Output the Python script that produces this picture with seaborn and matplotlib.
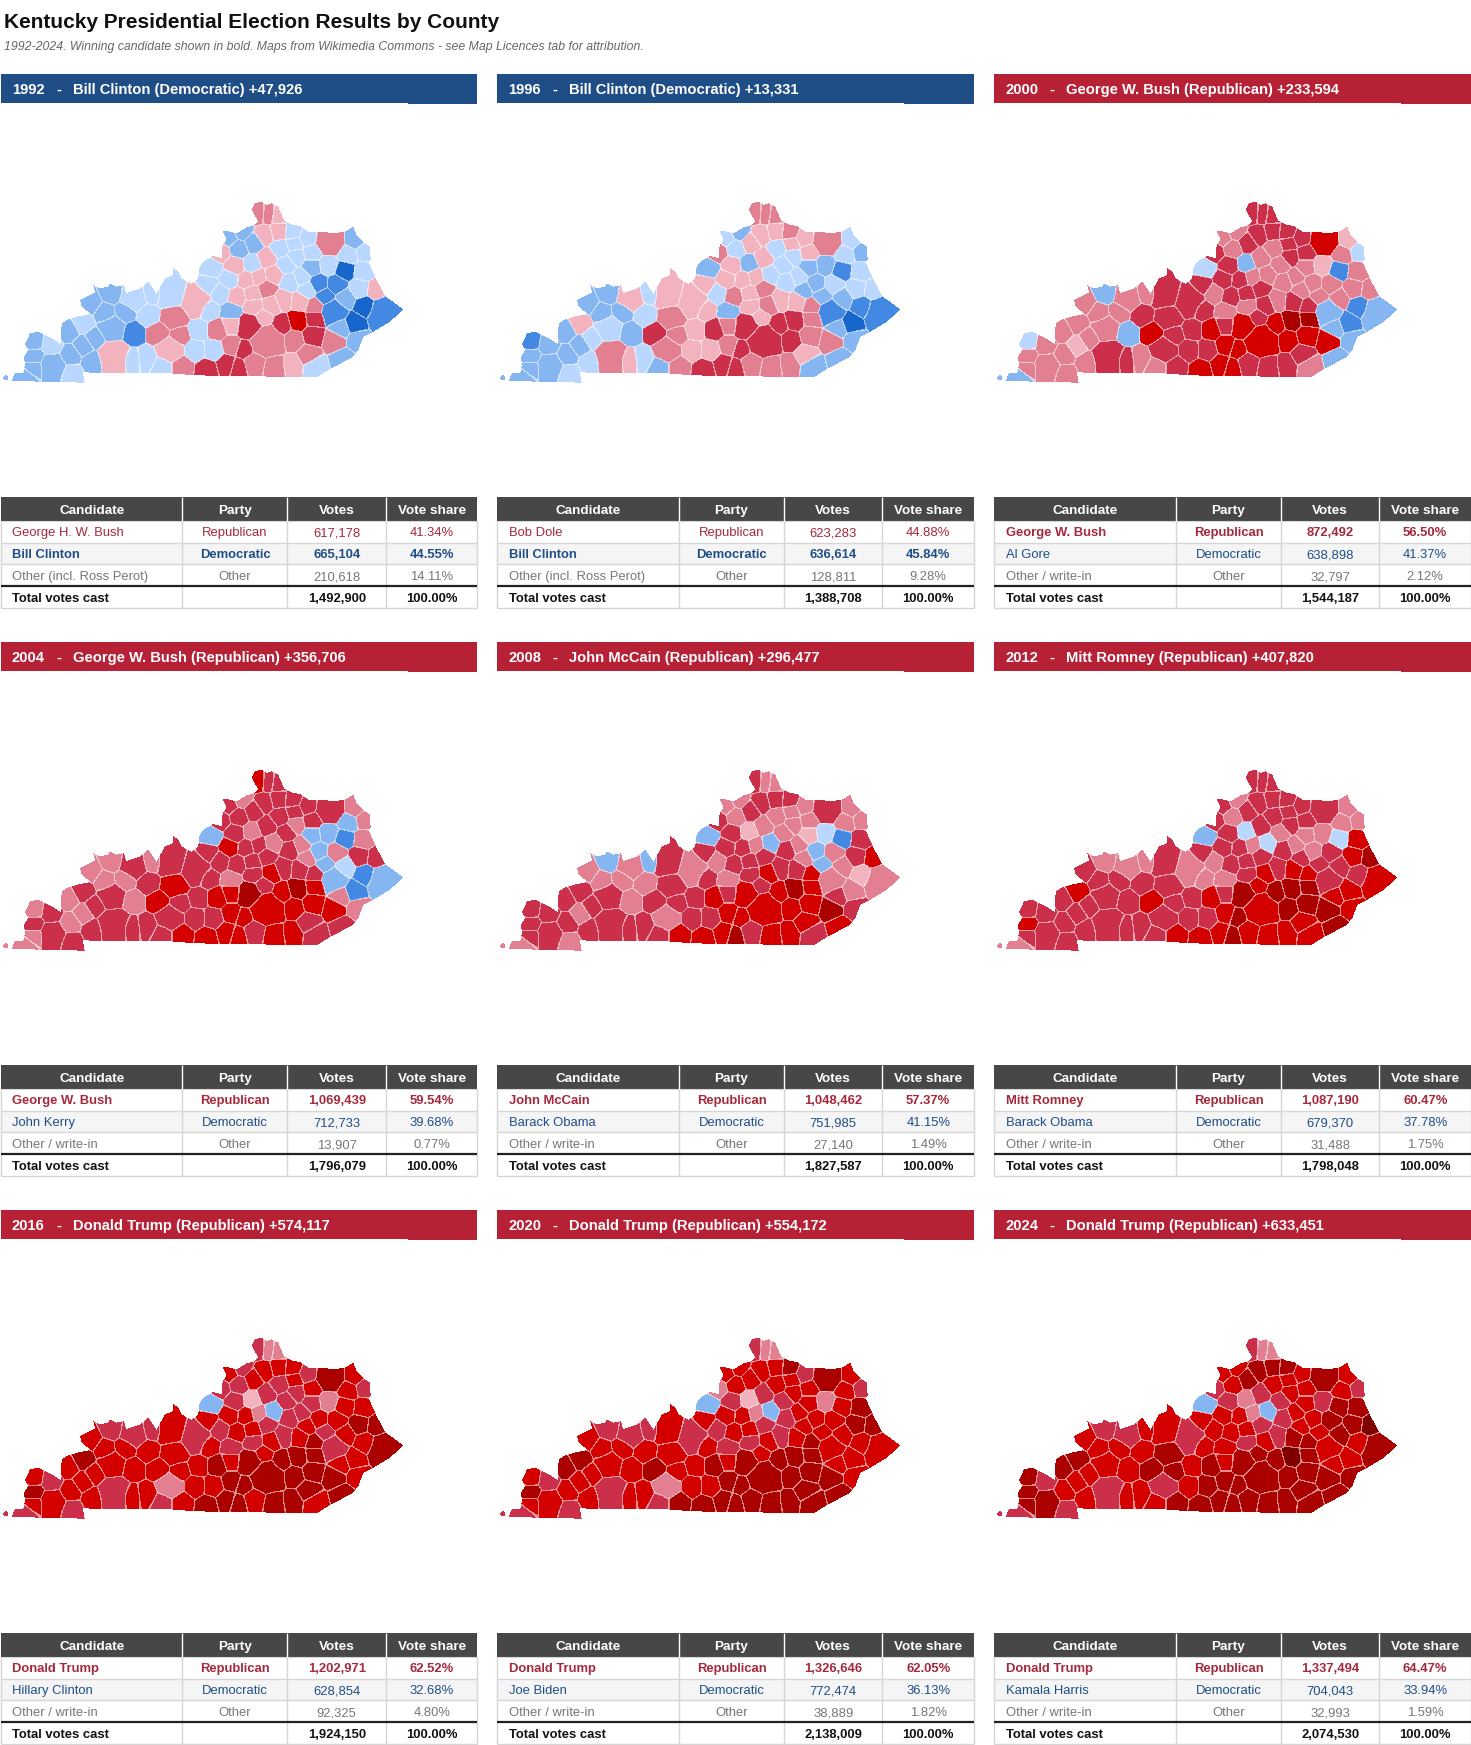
import numpy as np
import matplotlib
matplotlib.use("Agg")
import matplotlib.pyplot as plt
from matplotlib.colors import ListedColormap, to_rgb
from matplotlib.patches import Rectangle
from matplotlib.path import Path
import seaborn as sns

years = [1992, 1996, 2000, 2004, 2008, 2012, 2016, 2020, 2024]
winner_side = ["dem", "dem", "rep", "rep", "rep", "rep", "rep", "rep", "rep"]
margins = ["+47,926", "+13,331", "+233,594", "+356,706", "+296,477", "+407,820", "+574,117", "+554,172", "+633,451"]

rep_names = ["George H. W. Bush", "Bob Dole", "George W. Bush", "George W. Bush", "John McCain",
             "Mitt Romney", "Donald Trump", "Donald Trump", "Donald Trump"]
dem_names = ["Bill Clinton", "Bill Clinton", "Al Gore", "John Kerry", "Barack Obama",
             "Barack Obama", "Hillary Clinton", "Joe Biden", "Kamala Harris"]
other_names = ["Other (incl. Ross Perot)", "Other (incl. Ross Perot)"] + ["Other / write-in"] * 7

rep_votes = [617178, 623283, 872492, 1069439, 1048462, 1087190, 1202971, 1326646, 1337494]
dem_votes = [665104, 636614, 638898, 712733, 751985, 679370, 628854, 772474, 704043]
other_votes = [210618, 128811, 32797, 13907, 27140, 31488, 92325, 38889, 32993]
total_votes = [1492900, 1388708, 1544187, 1796079, 1827587, 1798048, 1924150, 2138009, 2074530]

rep_share = [41.34, 44.88, 56.50, 59.54, 57.37, 60.47, 62.52, 62.05, 64.47]
dem_share = [44.55, 45.84, 41.37, 39.68, 41.15, 37.78, 32.68, 36.13, 33.94]
other_share = [14.11, 9.28, 2.12, 0.77, 1.49, 1.75, 4.80, 1.82, 1.59]

county_x = [80, 100, 100, 100, 155, 158, 215, 212, 205, 250, 250, 285, 278, 342, 335, 272, 335, 315, 375, 400,
            458, 445, 400, 395, 440, 487, 475, 510, 540, 525, 515, 545,
            635, 625, 688, 705, 660, 688, 718, 725, 760, 795, 835, 775, 807, 832, 757, 800, 840, 880, 885, 920,
            890, 935, 990, 860, 820, 775, 740, 905, 870, 935, 985, 955, 800, 757, 712, 660, 850, 900, 922, 815,
            760, 695, 625, 585, 595, 585, 640, 652, 695, 695, 750, 790, 735, 680, 622, 715, 767, 820, 875, 945,
            800, 880, 925, 845, 893, 945, 940, 945, 1002, 1030, 1000, 1065, 1020, 1075, 1095, 1155, 1130, 1078,
            1035, 975, 1010, 1035, 1090, 1045, 1065, 1095]
county_y = [562, 535, 500, 455, 465, 530, 552, 495, 425, 400, 468, 445, 515, 500, 415, 340, 310, 370, 365, 325,
            310, 375, 430, 510, 505, 530, 430, 480, 435, 380, 315, 530,
            235, 285, 268, 228, 187, 140, 175, 125, 160, 135, 125, 70, 72, 75, 222, 205, 175, 128, 160, 145,
            200, 190, 155, 225, 255, 262, 270, 262, 275, 230, 225, 282, 295, 310, 320, 310, 330, 335, 300, 345,
            350, 365, 360, 335, 420, 480, 480, 420, 405, 465, 410, 385, 478, 525, 540, 535, 520, 530, 525, 530,
            455, 450, 495, 405, 392, 385, 435, 350, 450, 510, 365, 400, 415, 450, 350, 370, 300, 295,
            325, 320, 285, 240, 245, 195, 150, 185]
# counties that are visibly bigger than their neighbours: position in the lists above -> extra reach
county_reach = {5: 10, 13: 18, 14: 10, 19: 10, 27: 10, 29: 10, 30: 15, 54: 12, 75: 18, 82: 12,
                88: 8, 89: 8, 92: 25, 102: 10, 107: 20}

# shade class per county: a-d democratic, 1-6 republican
class_1992 = "bbbba babba bbb1b bbbba aacaa a2122 a2 aaa11 bbbb1 1221a 1aaaa aa2a1 11aab ac211 a11a1 1ba1a aa212 31333 3221a 22234 3322b cdbbd c1abc cdaab a"
class_1996 = "bbbcb babb1 baa2a bbbb1 aab1a b3222 12 b1112 aab11 1222b 1a211 a12aa 11aab bb212 a11b2 1b111 11322 31333 3222b 33133 2222b cdbbc caabb acaaa b"
class_2000 = "b22a2 22222 12232 2b222 23b32 24333 33 a3333 22233 3333b 22333 33422 23222 12333 22323 22333 33434 43444 43332 44345 5434b bcbbc b2222 2c221 a"
class_2004 = "22323 33223 23333 22223 23233 34334 34 b3433 33233 34332 33333 23332 3323b bb333 33324 32333 33444 53444 43443 44345 44343 bc22c b33ab 2c2b2 2"
class_2008 = "23333 32333 23333 2b222 b2233 33233 34 b3333 22233 33221 22322 2232b 23231 ab333 23324 32323 33434 43444 53443 44445 44454 22331 2432b 2c322 2"
class_2012 = "23433 33334 33333 32332 23333 34333 34 b3333 32233 3333a 33333 3332a 23232 22333 23434 32223 33434 54544 54444 45455 55455 34443 45433 3a422 2"
class_2016 = "34543 43445 44434 43443 34444 34244 44 b4433 43344 43221 33443 3453b 24333 24344 33444 33434 44545 54555 54554 55555 55555 34444 55543 44444 3"
class_2020 = "34543 43455 44434 43443 34444 35244 45 b4432 44444 43221 34543 4453b 24434 24344 33444 33434 44545 54555 55555 55555 55555 44444 45544 44544 3"
class_2024 = "35553 53455 44434 43443 44444 45355 45 b4433 44455 53222 34544 4453b 24434 34344 43544 34434 45545 55555 55555 55556 55555 44454 56554 55544 3"
county_classes = [class_1992, class_1996, class_2000, class_2004, class_2008,
                  class_2012, class_2016, class_2020, class_2024]

shade_codes = "abcd123456"
shade_colors = ["#B9D7FF", "#86B6F2", "#4389E3", "#1666CB", "#F2B3BE", "#E27F90", "#CC2F4A", "#D40000", "#AA0000", "#800000"]

state_outline = [(35, 572), (45, 548), (70, 548), (75, 525), (72, 500), (85, 480), (75, 462), (90, 430), (115, 425),
                 (155, 445), (182, 462), (185, 400), (205, 388), (240, 378), (272, 372), (245, 350), (240, 330),
                 (285, 308), (280, 285), (300, 295), (325, 290), (330, 280), (350, 290), (372, 285), (378, 310),
                 (420, 295), (445, 275), (470, 312), (478, 295), (495, 265), (520, 255), (520, 235), (535, 245),
                 (545, 265), (575, 282), (595, 265), (597, 235), (610, 215), (640, 198), (665, 205), (668, 165),
                 (680, 150), (668, 122), (690, 125), (710, 130), (740, 112), (765, 105), (775, 95), (755, 60),
                 (765, 40), (785, 35), (800, 45), (815, 40), (835, 50), (852, 92), (880, 105), (900, 108),
                 (925, 125), (965, 125), (1000, 130), (1035, 125), (1060, 110), (1070, 135), (1095, 160),
                 (1110, 170), (1112, 210), (1105, 215), (1130, 270), (1155, 318), (1210, 358), (1170, 395),
                 (1120, 425), (1090, 440), (1075, 480), (1060, 500), (985, 540), (950, 562), (585, 556),
                 (510, 550), (285, 550), (248, 545), (254, 578), (120, 575)]
exclave_outline = [(10, 560), (18, 555), (25, 560), (25, 568), (18, 572), (10, 568)]

header_labels = ["Candidate", "Party", "Votes", "Vote share"]
party_labels = ["Republican", "Democratic", "Other"]

DEM_BLUE = "#1F4E87"
REP_RED = "#B72135"
REP_TEXT = "#A5283B"
OTHER_GREY = "#777777"
FONT = "Liberation Sans"

W, H = 1471, 1745
panel_x = [1, 497.5, 994.5]
map_x = [0, 497, 994]
panel_y = [0, 568, 1136]
col_edges = [0, 181.5, 286.5, 385, 476.5]


def build_county_grid():
    # each map cell goes to the nearest county centre, cells near a boundary become outline
    gx, gy = np.meshgrid((np.arange(420) + 0.5) * 3, (np.arange(210) + 0.5) * 3)
    reach = np.zeros(len(county_x))
    for k, extra in county_reach.items():
        reach[k] = extra
    dist = np.hypot(gx[..., None] - np.array(county_x), gy[..., None] - np.array(county_y)) - reach
    nearest = dist.argmin(axis=2)
    two = np.partition(dist, 1, axis=2)
    edge = (two[..., 1] - two[..., 0]) < 3.4
    pts = np.column_stack([gx.ravel(), gy.ravel()])
    inside = Path(state_outline + [state_outline[0]]).contains_points(pts)
    inside |= Path(exclave_outline + [exclave_outline[0]]).contains_points(pts)
    return nearest, edge, ~inside.reshape(gx.shape)


def draw_map(fig, x0, y0, classes, nearest, edge, outside):
    codes = classes.replace(" ", "")
    values = np.array([shade_codes.index(c) for c in codes])
    grid = values[nearest] + edge * len(shade_codes)
    light = [tuple(0.45 * c + 0.55 for c in to_rgb(s)) for s in shade_colors]
    cmap = ListedColormap(shade_colors + light)
    ax = fig.add_axes([x0 / W, 1 - (y0 + 210) / H, 420 / W, 210 / H])
    sns.heatmap(grid, mask=outside, cmap=cmap, vmin=-0.5, vmax=19.5, cbar=False,
                xticklabels=False, yticklabels=False, ax=ax)
    ax.set_facecolor("white")


def draw_banner(ax, x0, y0, i):
    color = DEM_BLUE if winner_side[i] == "dem" else REP_RED
    ax.add_patch(Rectangle((x0, y0 + 74), col_edges[-1], 29, fc=color, ec="none"))
    ax.add_patch(Rectangle((x0 + 407, y0 + 102), col_edges[-1] - 407, 1.5, fc=color, ec="none"))
    if winner_side[i] == "dem":
        who = dem_names[i] + " (Democratic)"
    else:
        who = rep_names[i] + " (Republican)"
    base = y0 + 94
    ax.text(x0 + 11, base, f"{years[i]}", color="white", fontweight="bold", fontsize=10.6)
    ax.text(x0 + 55, base, "-", color="white", fontweight="bold", fontsize=10.6)
    ax.text(x0 + 72, base, f"{who} {margins[i]}", color="white", fontweight="bold", fontsize=10.6)


def draw_table(ax, x0, y0, i):
    row_edges = [497, 520.5, 542.5, 564, 586, 608]
    text_base = [514, 536, 558, 580, 602]
    ax.add_patch(Rectangle((x0, y0 + row_edges[0]), col_edges[-1], row_edges[1] - row_edges[0], fc="#474747", ec="none"))
    ax.add_patch(Rectangle((x0, y0 + row_edges[2]), col_edges[-1], row_edges[3] - row_edges[2], fc="#F5F5F5", ec="none"))
    for y in row_edges[2:4] + row_edges[5:]:
        ax.plot([x0, x0 + col_edges[-1]], [y0 + y, y0 + y], color="#D6D6D6", lw=1, solid_capstyle="butt")
    ax.plot([x0, x0 + col_edges[-1]], [y0 + row_edges[1], y0 + row_edges[1]], color="#D6D6D6", lw=0.8)
    for x in col_edges:
        ax.plot([x0 + x, x0 + x], [y0 + row_edges[1], y0 + row_edges[-1]], color="#D6D6D6", lw=1, solid_capstyle="butt")
    for x in col_edges[1:-1]:
        ax.plot([x0 + x, x0 + x], [y0 + row_edges[0], y0 + row_edges[1]], color="white", lw=1, solid_capstyle="butt")
    ax.plot([x0, x0 + col_edges[-1]], [y0 + row_edges[4], y0 + row_edges[4]], color="#222222", lw=1.6, solid_capstyle="butt")

    col_mid = [(col_edges[k] + col_edges[k + 1]) / 2 for k in range(4)]
    for k, label in enumerate(header_labels):
        ax.text(x0 + col_mid[k], y0 + text_base[0], label, color="white", fontweight="bold", fontsize=9.7, ha="center")

    rows = [
        (rep_names[i], party_labels[0], rep_votes[i], rep_share[i], REP_TEXT, winner_side[i] == "rep"),
        (dem_names[i], party_labels[1], dem_votes[i], dem_share[i], DEM_BLUE, winner_side[i] == "dem"),
        (other_names[i], party_labels[2], other_votes[i], other_share[i], OTHER_GREY, False),
        ("Total votes cast", "", total_votes[i], 100.0, "#111111", True),
    ]
    for r, (name, party, votes, share, color, bold) in enumerate(rows):
        base = y0 + text_base[r + 1]
        weight = "bold" if bold else "normal"
        ax.text(x0 + 11.5, base, name, color=color, fontweight=weight, fontsize=9.4)
        ax.text(x0 + col_mid[1], base, party, color=color, fontweight=weight, fontsize=9.4, ha="center")
        ax.text(x0 + col_mid[2], base, f"{votes:,}", color=color, fontweight=weight, fontsize=9.4, ha="center")
        ax.text(x0 + col_mid[3], base, f"{share:.2f}%", color=color, fontweight=weight, fontsize=9.4, ha="center")


def main():
    sns.set_theme(style="white")
    plt.rcParams["font.family"] = [FONT, "DejaVu Sans"]

    fig = plt.figure(figsize=(W / 100, H / 100), dpi=100, facecolor="white")
    page = fig.add_axes([0, 0, 1, 1])
    page.set_xlim(0, W)
    page.set_ylim(H, 0)
    page.axis("off")

    page.text(4, 28, "Kentucky Presidential Election Results by County", color="#111111",
              fontweight="bold", fontsize=15.05)
    page.text(4, 50, "1992-2024. Winning candidate shown in bold. Maps from Wikimedia Commons - see Map Licences tab for attribution.",
              color="#666666", fontstyle="italic", fontsize=8.8)

    nearest, edge, outside = build_county_grid()
    for i in range(len(years)):
        x0 = panel_x[i % 3]
        y0 = panel_y[i // 3]
        draw_banner(page, x0, y0, i)
        draw_table(page, x0, y0, i)
        draw_map(fig, map_x[i % 3], y0 + 190, county_classes[i], nearest, edge, outside)

    fig.savefig("out.png", dpi=100)


if __name__ == "__main__":
    main()
